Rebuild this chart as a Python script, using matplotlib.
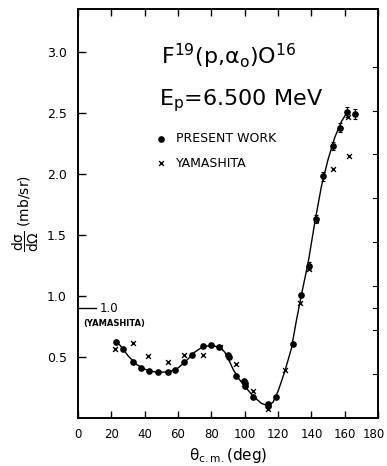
import matplotlib.pyplot as plt
import matplotlib.transforms as mtransforms
import numpy as np

plt.rcParams["mathtext.default"] = "regular"

# present work (dots)
present_theta = [22.8, 26.8, 33.0, 37.8, 42.8, 48.2, 53.8, 58.4, 63.6, 68.4,
                 74.8, 79.8, 84.8, 89.8, 90.6, 94.6, 99.4, 100.0, 100.2, 104.8,
                 113.8, 114.2, 118.8, 129.2, 134.0, 138.4, 142.6, 147.2, 152.8,
                 157.2, 161.4, 166.2]
present_sigma = [0.62, 0.566, 0.457, 0.413, 0.383, 0.377, 0.377, 0.397, 0.457, 0.52,
                 0.59, 0.596, 0.582, 0.52, 0.50, 0.345, 0.303, 0.285, 0.265, 0.172,
                 0.112, 0.10, 0.172, 0.61, 1.01, 1.25, 1.63, 1.98, 2.23,
                 2.38, 2.51, 2.49]
present_err = [0.0] * 25 + [0.03, 0.03, 0.035, 0.035, 0.035, 0.04, 0.04]

# Yamashita (crosses)
yama_theta = [22.4, 33.0, 42.2, 53.8, 63.8, 74.8, 85.4, 94.8, 104.8, 113.8,
              124.2, 133.4, 138.4, 142.6, 152.8, 161.8, 162.8]
yama_sigma = [0.563, 0.615, 0.506, 0.46, 0.514, 0.514, 0.582, 0.446, 0.221, 0.077,
              0.39, 0.943, 1.22, 1.62, 2.04, 2.47, 2.15]

# smooth curve drawn through the data
curve_theta = [22.5, 25, 30, 35, 40, 45, 50, 55, 60, 65, 70, 75, 80, 85, 88, 90,
               93, 96, 100, 105, 110, 114, 117, 120, 124, 128, 131, 134, 138,
               142, 146, 150, 154, 158, 162]
curve_sigma = [0.62, 0.60, 0.51, 0.44, 0.40, 0.38, 0.375, 0.38, 0.41, 0.47, 0.54,
               0.585, 0.595, 0.58, 0.54, 0.49, 0.40, 0.33, 0.26, 0.18, 0.12, 0.10,
               0.13, 0.22, 0.38, 0.57, 0.80, 1.01, 1.27, 1.60, 1.90, 2.12, 2.30,
               2.43, 2.52]

x_ticks = [0, 20, 40, 60, 80, 100, 120, 140, 160, 180]
x_labels = ["0", "20", "40", "60", "80", "100", "120", "140", "160", "180"]
y_ticks = [0.5, 1.0, 1.5, 2.0, 2.5, 3.0]
y_labels = ["0.5", "1.0", "1.5", "2.0", "2.5", "3.0"]
right_ticks = [0.36, 0.72, 0.905, 1.08, 1.44, 1.80, 2.16, 2.52, 2.88]
yama_mark = 0.905

fig = plt.figure(figsize=(3.87, 4.66), dpi=100)
ax = fig.add_axes([0.2016, 0.103, 0.7754, 0.877])

ax.plot(curve_theta, curve_sigma, color="black", linewidth=1.0, zorder=1)
ax.errorbar(present_theta, present_sigma, yerr=present_err, fmt="o", color="black",
            markersize=3.8, elinewidth=0.8, capsize=1.5, capthick=0.8, zorder=3)
ax.scatter(yama_theta, yama_sigma, marker="x", color="black", s=12, linewidths=1.0, zorder=2)

ax.set_xlim(0, 180)
ax.set_ylim(0, 3.35)
ax.set_xticks(x_ticks)
ax.set_xticklabels(x_labels, fontsize=8.5)
ax.set_yticks(y_ticks)
ax.set_yticklabels(y_labels, fontsize=9)
ax.tick_params(axis="x", direction="in", top=True, length=5, width=1.0, pad=7)
ax.tick_params(axis="y", direction="in", left=True, right=False, length=6, width=1.0, pad=8)
for side in ax.spines.values():
    side.set_linewidth(1.4)

# nudge the last x label so it stays inside the figure
last = ax.get_xticklabels()[-1]
last.set_transform(last.get_transform() + mtransforms.ScaledTranslation(-4 / 100, 0, fig.dpi_scale_trans))

# short ticks on the right side
for yv in right_ticks:
    ax.plot([177, 180], [yv, yv], color="black", linewidth=0.8, clip_on=False)

# Yamashita scale mark
ax.plot([0.5, 11], [yama_mark, yama_mark], color="black", linewidth=1.0)
ax.text(13, yama_mark - 0.01, "1.0", fontsize=8.5, va="center", ha="left")
ax.text(3, yama_mark - 0.13, "(YAMASHITA)", fontsize=6, va="center", ha="left",
        fontweight="bold")

# reaction labels
ax.text(49.5, 2.96, r"F$^{19}$(p,$\alpha_{o}$)O$^{16}$", fontsize=16, va="center",
        ha="left")
ax.text(48.5, 2.6, r"E$_{p}$=6.500 MeV", fontsize=16, va="center", ha="left")
ax.plot([50], [2.29], "o", color="black", markersize=3.8)
ax.text(59, 2.29, "PRESENT WORK", fontsize=9, va="center", ha="left")
ax.scatter([50], [2.09], marker="x", color="black", s=12, linewidths=1.0)
ax.text(59, 2.09, "YAMASHITA", fontsize=9, va="center", ha="left")

ax.set_xlabel(r"$\theta_{c.m.}$(deg)", fontsize=11, labelpad=4)
ax.set_ylabel(r"$\dfrac{d\sigma}{d\Omega}$ (mb/sr)", fontsize=10, labelpad=4)

fig.savefig("out.png", dpi=100)
